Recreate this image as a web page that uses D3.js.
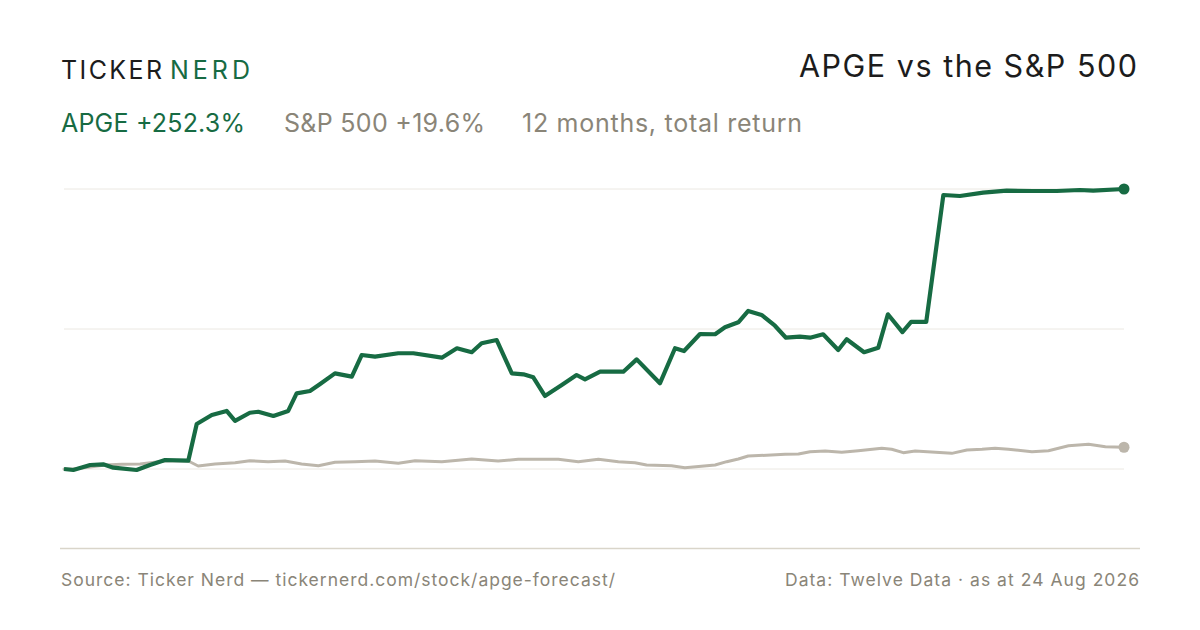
<!DOCTYPE html>
<html>
<head>
<meta charset="utf-8">
<script src="https://cdn.jsdelivr.net/npm/d3@7/dist/d3.min.js"></script>
<style>
  html, body { margin: 0; padding: 0; background: #ffffff; }
  svg { display: block; font-family: Inter, "Noto Sans", sans-serif; }
</style>
</head>
<body>
<svg id="chart" width="1200" height="630"></svg>
<script>
// ---- Data (days since start of 12-month window, total return %) ----
const apgeDays = [0, 3.2, 9.0, 13.5, 17.0, 25.0, 29.6, 34.8, 42.8, 45.7, 50.9, 56.0, 58.9, 64.0, 66.9, 72.1, 77.2, 80.1, 84.7, 88.2, 93.3, 99.1, 102.5, 107.1, 115.1, 120.3, 130.1, 135.3, 140.4, 143.8, 149.0, 154.2, 158.2, 161.6, 165.6, 171.4, 176.5, 179.4, 184.6, 192.6, 197.2, 205.2, 210.4, 213.5, 219.0, 224.2, 227.6, 232.2, 235.6, 240.2, 244.8, 248.6, 253.4, 256.9, 261.4, 266.6, 269.5, 275.5, 280.4, 283.7, 288.7, 291.7, 296.9, 302.8, 308.5, 316.5, 324.6, 333.7, 341.8, 349.8, 354.4, 365];
const apgeValues = [0, -0.9, 3.6, 4.2, 1.2, -0.9, 3.6, 8.1, 7.5, 40.5, 48.7, 52.3, 43.3, 50.7, 51.6, 47.8, 52.3, 68.2, 70.3, 76.6, 86.2, 83.2, 102.7, 101.2, 104.3, 104.3, 100.3, 108.8, 105.2, 113.3, 116.2, 86.2, 85.3, 82.6, 65.8, 75.7, 84.7, 80.8, 87.7, 87.7, 98.8, 77.2, 108.8, 106.3, 121.6, 121.4, 127.7, 132.2, 142.4, 138.8, 129.1, 118.3, 119.2, 118.3, 121.4, 107.2, 116.9, 105.2, 109.3, 139.4, 123.4, 132.5, 132.5, 246.9, 246.0, 249.0, 250.8, 250.5, 250.5, 251.4, 250.8, 252.3];

const spxDays = [0, 3.1, 9.0, 14.1, 19.9, 26.2, 34.8, 42.8, 46.2, 52.0, 58.9, 64.0, 70.3, 76.1, 81.8, 87.6, 93.3, 100.2, 107.1, 115.1, 120.9, 130.1, 140.4, 149.5, 156.4, 170.2, 177.1, 184.0, 190.9, 196.6, 200.6, 209.2, 213.8, 224.2, 228.2, 232.2, 235.6, 248.3, 252.9, 256.9, 262.1, 267.8, 273.5, 281.6, 285.0, 289.0, 293.1, 305.7, 310.9, 316.1, 320.6, 325.2, 333.3, 339.0, 345.9, 352.8, 358.6, 365];
const spxValues = [0, 0, 1.8, 3.6, 4.2, 4.5, 7.2, 7.2, 2.7, 4.5, 5.7, 7.5, 6.6, 7.2, 4.5, 3.0, 6.0, 6.6, 7.2, 5.1, 7.5, 6.6, 9.0, 7.2, 8.7, 8.7, 6.6, 8.7, 6.6, 5.7, 3.6, 3.0, 1.2, 3.6, 6.6, 9.0, 11.7, 13.2, 13.5, 15.6, 16.2, 15.0, 16.5, 18.7, 17.8, 14.7, 16.2, 14.1, 17.1, 17.8, 18.7, 17.8, 15.6, 16.5, 21.0, 22.3, 20.1, 19.6];

const seriesNames = ["APGE", "S&P 500"];
const totalReturns = [252.3, 19.6];
const periodLabel = "12 months, total return";
const titleText = "APGE vs the S&P 500";
const sourceText = "Source: Ticker Nerd \u2014 tickernerd.com/stock/apge-forecast/";
const dataText = "Data: Twelve Data \u00b7 as at 24 Aug 2026";

// ---- Styles ----
const GREEN = "#176b43";
const GREY_LINE = "#bcb6ab";
const GREY_TEXT = "#8a8578";
const DARK = "#1c1c1c";

const svg = d3.select("#chart");

const x = d3.scaleLinear().domain([0, 365]).range([64, 1124]);
const yMax = d3.max(apgeValues);
const y = d3.scaleLinear().domain([0, yMax]).range([469, 189]);
const gridValues = [0, yMax / 2, yMax];

// gridlines
svg.append("g").selectAll("line").data(gridValues).join("line")
  .attr("x1", x(0)).attr("x2", x(365))
  .attr("y1", d => y(d)).attr("y2", d => y(d))
  .attr("stroke", "#ebe8e2").attr("stroke-width", 1);

// bottom rule
svg.append("line").attr("x1", 60).attr("x2", 1140).attr("y1", 548.5).attr("y2", 548.5)
  .attr("stroke", "#d9d5ca").attr("stroke-width", 1.5);

const line = d3.line().x(d => x(d[0])).y(d => y(d[1])).curve(d3.curveLinear);
const spx = spxDays.map((d, i) => [d, spxValues[i]]);
const apge = apgeDays.map((d, i) => [d, apgeValues[i]]);

svg.append("path").datum(spx).attr("d", line)
  .attr("fill", "none").attr("stroke", GREY_LINE).attr("stroke-width", 3)
  .attr("stroke-linejoin", "round").attr("stroke-linecap", "round");
svg.append("circle").attr("cx", x(spx[spx.length - 1][0])).attr("cy", y(spx[spx.length - 1][1]))
  .attr("r", 5.5).attr("fill", GREY_LINE);

svg.append("path").datum(apge).attr("d", line)
  .attr("fill", "none").attr("stroke", GREEN).attr("stroke-width", 4.2)
  .attr("stroke-linejoin", "round").attr("stroke-linecap", "butt");
svg.append("circle").attr("cx", x(apge[apge.length - 1][0])).attr("cy", y(apge[apge.length - 1][1]))
  .attr("r", 5.5).attr("fill", GREEN);

// helper: text fitted to the reference's measured width
function fitText(xPos, yPos, size, fill, str, width) {
  return svg.append("text").attr("x", xPos).attr("y", yPos)
    .attr("font-size", size).attr("fill", fill)
    .attr("textLength", width).attr("lengthAdjust", "spacing")
    .text(str);
}

// logo
fitText(61, 79, 25, DARK, "TICKER", 101);
fitText(170, 79, 25, GREEN, "NERD", 80);

// title
fitText(799, 77, 30.5, DARK, titleText, 338);

// subtitle
const fmt = v => (v >= 0 ? "+" : "") + v.toFixed(1) + "%";
fitText(61, 132, 25, GREEN, seriesNames[0] + " " + fmt(totalReturns[0]), 184);
fitText(284, 132, 25, GREY_TEXT, seriesNames[1] + " " + fmt(totalReturns[1]), 201);
fitText(522, 132, 25, GREY_TEXT, periodLabel, 280);

// footer
fitText(61, 586, 17.5, GREY_TEXT, sourceText, 554);
fitText(785, 586, 17.5, GREY_TEXT, dataText, 354);
</script>
</body>
</html>
